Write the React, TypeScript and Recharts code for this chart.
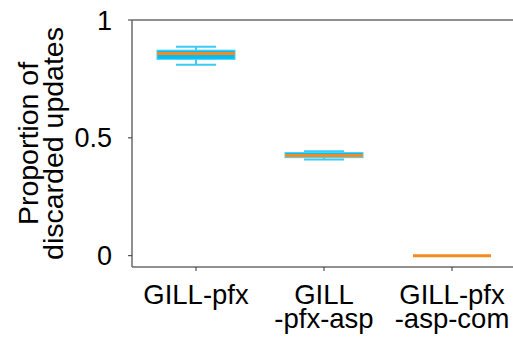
import React from "react";
import {
  ComposedChart,
  Bar,
  XAxis,
  YAxis,
  ReferenceLine,
  Label,
} from "recharts";

const categories = ["GILL-pfx", "GILL\n-pfx-asp", "GILL-pfx\n-asp-com"];
const whiskerLow = [0.81, 0.408, 0];
const q1 = [0.833, 0.416, 0];
const median = [0.858, 0.425, 0];
const q3 = [0.872, 0.4375, 0];
const whiskerHigh = [0.887, 0.443, 0];
const yTicks = [0, 0.5, 1];

const data = categories.map((name, i) => ({
  name,
  range: [whiskerLow[i], whiskerHigh[i]],
  lo: whiskerLow[i],
  q1: q1[i],
  med: median[i],
  q3: q3[i],
  hi: whiskerHigh[i],
}));

const FONT = "'Liberation Sans', Arial, sans-serif";
const AXIS = "#6b6b6b";

// whisker range comes in as the bar, the rest is placed inside it
function BoxShape(props: any) {
  const { x, y, width, height, payload } = props;
  const { lo, hi } = payload;
  const toY = (v: number) =>
    hi === lo ? y : y + (height * (hi - v)) / (hi - lo);
  const cx = x + width / 2;
  const capHalf = 20;
  const yq1 = toY(payload.q1);
  const yq3 = toY(payload.q3);
  const ymed = toY(payload.med);
  const flat = hi === lo;
  return (
    <g>
      {!flat && (
        <g stroke="#3fcaf3" strokeWidth={2}>
          <line x1={cx} x2={cx} y1={toY(hi)} y2={yq3} />
          <line x1={cx} x2={cx} y1={yq1} y2={toY(lo)} />
          <line x1={cx - capHalf} x2={cx + capHalf} y1={toY(hi)} y2={toY(hi)} />
          <line x1={cx - capHalf} x2={cx + capHalf} y1={toY(lo)} y2={toY(lo)} />
          <rect
            x={x}
            y={yq3}
            width={width}
            height={Math.max(yq1 - yq3, 0)}
            fill="#00bdf2"
            stroke="#4fd0f5"
            strokeWidth={1}
          />
        </g>
      )}
      <line
        x1={x}
        x2={x + width}
        y1={ymed}
        y2={ymed}
        stroke="#f58a22"
        strokeWidth={3}
      />
    </g>
  );
}

function XTick(props: any) {
  const { x, y, payload } = props;
  const lines = String(payload.value).split("\n");
  return (
    <text
      x={x}
      y={y}
      textAnchor="middle"
      fontSize={27.5}
      fontFamily={FONT}
      fill="#000"
    >
      {lines.map((l, i) => (
        <tspan key={i} x={x} dy={i === 0 ? 31 : 24}>
          {l}
        </tspan>
      ))}
    </text>
  );
}

function YTitle(props: any) {
  const cx = 38;
  const cy = 143.5;
  return (
    <text
      x={cx}
      y={cy}
      transform={`rotate(-90 ${cx} ${cy})`}
      textAnchor="middle"
      fontSize={28.5}
      fontFamily={FONT}
      fill="#000"
    >
      <tspan x={cx} dy={0}>
        Proportion of
      </tspan>
      <tspan x={cx} dy={25}>
        discarded updates
      </tspan>
    </text>
  );
}

export default function App() {
  return (
    <div
      style={{
        position: "absolute",
        left: 0,
        top: 0,
        width: 513,
        height: 339,
        overflow: "hidden",
        background: "#fff",
      }}
    >
      <ComposedChart
        width={540}
        height={339}
        data={data}
        margin={{ top: 20, right: 24, bottom: 12, left: 0 }}
      >
        <XAxis
          dataKey="name"
          height={60}
          tick={<XTick />}
          tickSize={4}
          tickLine={{ stroke: "#333" }}
          axisLine={{ stroke: AXIS, strokeWidth: 1.5 }}
          interval={0}
        />
        <YAxis
          width={132}
          domain={[-0.048, 1]}
          ticks={yTicks}
          tickSize={4}
          tickMargin={16}
          tickLine={{ stroke: "#333" }}
          axisLine={{ stroke: AXIS, strokeWidth: 1.5 }}
          tick={{ fontSize: 27, fontFamily: FONT, fill: "#000" }}
          allowDataOverflow
        >
          <Label content={<YTitle />} />
        </YAxis>
        <ReferenceLine y={1} stroke={AXIS} strokeWidth={1.5} />
        <Bar
          dataKey="range"
          barSize={78}
          shape={<BoxShape />}
          isAnimationActive={false}
        />
      </ComposedChart>
    </div>
  );
}
